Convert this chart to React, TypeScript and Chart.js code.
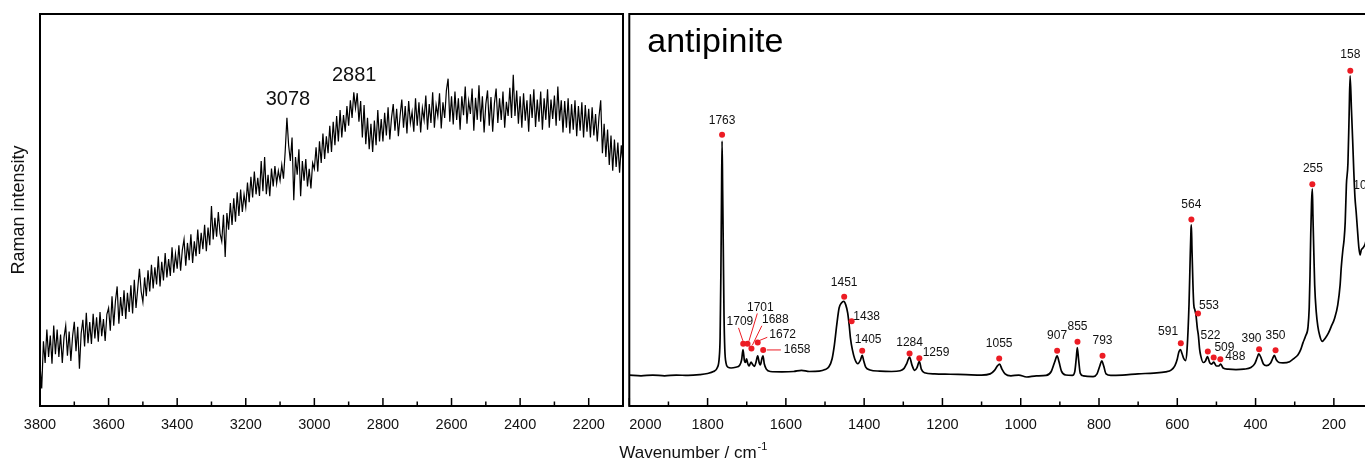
import React, { useEffect, useRef } from 'react';
import { Chart, registerables } from 'chart.js';

Chart.register(...registerables);

const FONT = "'Liberation Sans', Arial, Helvetica, sans-serif";

// ---------- Left panel (3800 - 2100 cm-1), sampled every 5 cm-1 from 3800 downwards ----------
const leftStartWn = 3800;
const leftStepWn = 5;
const leftIntensity: number[] = [
  10.5, 4.5, 16.5, 11.0, 19.5, 12.5, 18.0, 10.8, 20.5, 13.2, 19.5, 12.5, 18.2, 11.0, 17.5, 20.5, 12.8, 19.0, 11.5, 17.8,
  21.5, 14.0, 20.2, 9.5, 18.5, 22.0, 15.2, 23.8, 16.0, 21.4, 15.8, 23.5, 17.2, 22.6, 16.4, 24.0, 17.8, 22.2, 16.6, 23.4,
  25.0, 19.2, 28.0, 20.5, 26.8, 30.5, 21.0, 27.8, 23.0, 29.5, 22.2, 28.9, 24.0, 30.8, 23.6, 32.2, 25.0, 30.0, 35.0, 29.2,
  26.5, 32.8, 28.0, 34.6, 29.2, 36.0, 30.0, 35.4, 31.0, 38.2, 30.5, 36.8, 32.0, 39.0, 32.8, 37.5, 33.2, 40.5, 34.0, 38.8,
  35.0, 41.0, 34.5, 39.8, 42.5, 35.8, 41.6, 37.2, 43.8, 36.5, 42.0, 38.2, 45.0, 38.8, 44.2, 40.0, 46.2, 39.5, 45.5, 41.0,
  51.0, 42.5, 48.0, 43.2, 49.5, 44.0, 42.0, 48.8, 38.0, 49.2, 45.0, 51.8, 46.2, 53.0, 47.0, 54.5, 48.5, 55.2, 49.5, 54.0,
  50.8, 57.0, 52.0, 58.5, 53.2, 59.8, 54.0, 58.2, 53.6, 62.5, 54.8, 63.5, 54.0, 59.0, 53.5, 60.6, 56.0, 61.2, 56.8, 60.0,
  57.5, 61.5, 58.0, 65.0, 73.5, 66.5, 62.5, 68.5, 52.5, 63.5, 59.0, 65.5, 53.5, 62.5, 57.5, 63.0, 56.0, 60.5, 55.5, 62.0,
  60.5, 66.0, 59.8, 67.5, 62.0, 69.5, 63.0, 68.8, 64.5, 71.5, 64.8, 72.5, 66.5, 74.0, 67.5, 75.5, 68.5, 74.2, 70.0, 76.5,
  71.5, 78.0, 73.5, 80.0, 76.0, 79.8, 72.5, 77.8, 68.5, 76.8, 66.8, 73.5, 65.5, 72.0, 64.8, 72.8, 66.5, 75.5, 67.5, 73.2,
  67.5, 74.8, 69.0, 76.2, 68.0, 73.5, 77.0, 70.2, 75.8, 68.8, 74.0, 78.2, 71.0, 76.5, 69.5, 77.8, 72.2, 75.0, 70.0, 78.5,
  71.5, 77.5, 69.8, 76.0, 73.0, 79.2, 70.5, 77.0, 72.2, 80.0, 71.0, 76.8, 74.0, 79.8, 70.8, 77.5, 73.5, 80.5, 83.5, 72.5,
  79.0, 71.8, 80.2, 73.0, 78.5, 70.5, 79.0, 74.2, 81.5, 72.0, 77.8, 74.5, 81.0, 70.2, 78.6, 73.0, 81.8, 72.5, 79.0, 69.8,
  77.0, 80.5, 71.5, 78.8, 70.0, 77.2, 81.0, 72.2, 78.5, 73.0, 80.2, 71.0, 77.6, 74.0, 81.2, 73.5, 84.5, 74.0, 80.5, 72.0,
  79.0, 71.0, 79.8, 72.8, 78.0, 70.0, 79.5, 73.5, 80.8, 71.2, 78.2, 72.5, 80.2, 70.5, 78.5, 73.0, 80.8, 71.0, 78.2, 73.2,
  79.2, 71.5, 81.5, 72.8, 78.0, 69.8, 77.8, 71.0, 78.5, 69.5, 77.0, 70.5, 78.0, 68.8, 76.5, 70.2, 77.5, 68.5, 76.8, 70.0,
  75.8, 68.5, 76.2, 69.0, 74.5, 67.5, 73.8, 78.0, 64.5, 72.0, 63.5, 70.5, 61.5, 69.0, 60.0, 68.0, 61.0, 67.2, 59.5, 66.5,
  62.0,
];
const leftTickValues = [2100, 2200, 2300, 2400, 2500, 2600, 2700, 2800, 2900, 3000, 3100, 3200, 3300, 3400, 3500, 3600, 3700, 3800];
const leftNoteLabels = ['3078', '2881'];
const leftNoteWn = [3077, 2884];
const leftNoteI = [78.2, 84.4];

// ---------- Right panel (2000 - 100 cm-1) ----------
const rightWn = [
  2000, 1970, 1940, 1910, 1880, 1850, 1820, 1800, 1785, 1775, 1770, 1768, 1766, 1764.5, 1763, 1761.5, 1760, 1758, 1756, 1753,
  1748, 1740, 1728, 1718, 1713, 1709.5, 1706, 1703, 1700.5, 1697, 1694, 1689, 1685, 1680, 1676, 1672, 1668, 1665, 1661, 1658.5,
  1655, 1650, 1640, 1610, 1580, 1560, 1540, 1515, 1500, 1490, 1482, 1476, 1470, 1464, 1458, 1452, 1447, 1442, 1438, 1435,
  1430, 1424, 1416, 1410, 1405, 1401, 1396, 1385, 1360, 1330, 1308, 1298, 1291, 1284, 1278, 1271, 1265, 1259, 1254, 1246,
  1220, 1180, 1140, 1100, 1078, 1067, 1059, 1054, 1048, 1040, 1025, 1005, 985, 960, 935, 922, 913, 907, 902, 896,
  885, 868, 862, 858, 855.5, 852, 848, 840, 815, 805, 798, 793, 788, 782, 770, 740, 700, 660, 630, 615,
  606, 600, 596, 592, 588, 583, 579, 575, 570, 567, 565, 564, 562.5, 560, 558, 555, 552, 549, 546, 543,
  540, 534, 528, 523, 517, 512, 507, 500, 494, 489, 483, 470, 450, 430, 412, 402, 396, 392, 386, 380,
  372, 362, 356, 352, 347, 340, 330, 313, 300, 292, 285, 279, 272, 266, 263, 261, 259, 257, 255, 253.5,
  251, 249, 245, 241, 236, 230, 222, 214, 207, 198, 190, 184, 181, 177, 174, 171, 168, 164, 161, 158.5,
  155, 152, 149, 146, 143, 140, 136, 133, 130, 126, 120, 112, 106, 100,
];
const rightIntensity = [
  7.9, 7.7, 7.9, 7.7, 7.9, 7.8, 8.0, 8.3, 8.8, 9.8, 12.6, 17.5, 34.0, 52.0, 67.6, 55.0, 41.5, 23.0, 14.5, 11.0,
  9.9, 9.7, 9.9, 10.4, 11.8, 14.4, 11.6, 11.1, 12.0, 10.7, 10.2, 11.2, 10.6, 10.1, 11.3, 12.8, 11.0, 10.5, 12.2, 12.8,
  10.7, 9.4, 8.8, 8.7, 8.8, 9.1, 8.8, 8.9, 9.3, 10.0, 12.0, 15.6, 20.7, 25.0, 26.3, 26.7, 25.8, 23.7, 20.4, 17.3,
  14.3, 12.0, 10.8, 11.6, 12.9, 11.5, 9.9, 9.2, 8.9, 8.8, 9.0, 9.6, 10.9, 12.5, 10.5, 9.1, 9.8, 11.4, 9.4, 8.5,
  8.2, 8.1, 8.0, 7.9, 8.2, 9.1, 10.3, 10.7, 9.4, 8.2, 7.7, 7.9, 7.4, 7.7, 7.8, 8.8, 11.3, 12.8, 11.2, 8.9,
  7.9, 7.8, 8.7, 12.3, 14.9, 11.7, 8.4, 7.7, 7.5, 8.2, 10.2, 11.5, 10.2, 8.2, 7.8, 7.9, 8.2, 8.4, 8.7, 9.2,
  10.3, 12.0, 13.8, 14.4, 13.4, 12.0, 11.6, 14.5, 26.0, 38.0, 45.0, 46.2, 40.0, 31.0, 26.0, 24.5, 23.0, 20.0, 17.9, 14.5,
  12.8, 11.1, 11.5, 12.6, 11.0, 10.7, 11.2, 10.2, 10.2, 10.7, 9.7, 9.4, 9.3, 9.4, 9.8, 10.8, 12.3, 13.3, 12.3, 10.7,
  10.3, 10.9, 12.2, 12.9, 11.8, 11.1, 11.0, 11.3, 12.3, 13.0, 14.3, 16.1, 17.9, 20.2, 25.0, 33.0, 44.0, 52.0, 55.4, 48.7,
  38.5, 30.9, 24.0, 20.4, 17.9, 16.5, 17.3, 18.6, 20.2, 22.4, 25.8, 30.9, 35.5, 39.8, 42.3, 46.9, 56.4, 62.0, 74.2, 84.2,
  75.5, 67.9, 59.7, 53.1, 49.5, 45.4, 40.3, 38.5, 39.8, 40.3, 41.3, 44.9, 50.0, 46.2,
];
const rightTickValues = [100, 200, 300, 400, 500, 600, 700, 800, 900, 1000, 1100, 1200, 1300, 1400, 1500, 1600, 1700, 1800, 1900, 2000];

// Peak markers
const peakLabels = ['1763', '1709', '1701', '1688', '1672', '1658', '1451', '1438', '1405', '1284', '1259', '1055', '907', '855', '793', '591', '564', '553', '522', '509', '488', '390', '350', '255', '158', '105'];
const peakWn = [1763, 1709, 1698, 1688, 1672, 1658, 1451, 1432, 1405, 1284, 1259, 1055, 907, 855, 791, 591, 564, 547, 522, 507, 490, 391, 349, 255, 158, 105];
const peakI = [69.2, 15.9, 15.9, 14.7, 16.2, 14.3, 27.9, 21.6, 14.1, 13.4, 12.2, 12.1, 14.1, 16.4, 12.8, 16.0, 47.6, 23.6, 13.9, 12.4, 11.9, 14.5, 14.2, 56.6, 85.5, 52.6];

// Label placement relative to each marker (pixels)
const labelDx = [0, -3.3, 12.8, 23.9, 25, 34, 0, 15, 6, 0, 16.7, 0, 0, 0, 0, -12.7, 0, 11, 2.7, 10.7, 15, -7.6, 0, 0.6, 0, -7.8];
const labelDy = [-14.3, -21.8, -35.8, -28.3, -7.5, 0, -14, -4.6, -10.7, -10.6, -5.6, -14.7, -14.7, -15, -14.7, -11.6, -14.3, -8.3, -15.7, -10, -2.6, -10.3, -14.6, -15, -15.7, -14.3];
// Leader lines (start offset, end offset relative to marker), only for the crowded group
const leaderIdx = [1, 2, 3, 4, 5];
const leaderStart = [[-4.7, -15.8], [9.8, -30.2], [10.4, -22.6], [9.6, -5.2], [17.7, 0]];
const leaderEnd = [[-0.3, -2.8], [1.5, -2.8], [1, -3.3], [1.3, -1.8], [3.7, 0]];

const MARKER_RED = 'rgb(236, 28, 36)';

function drawInnerTicks(ctx: CanvasRenderingContext2D, scale: any, bottom: number) {
  ctx.save();
  ctx.strokeStyle = '#000';
  ctx.lineWidth = 1.5;
  scale.ticks.forEach((t: any) => {
    const px = scale.getPixelForValue(t.value);
    const len = Math.round(t.value) % 200 === 0 ? 8 : 4.5;
    ctx.beginPath();
    ctx.moveTo(px, bottom);
    ctx.lineTo(px, bottom - len);
    ctx.stroke();
  });
  ctx.restore();
}

function drawFrame(ctx: CanvasRenderingContext2D, a: any) {
  ctx.save();
  ctx.strokeStyle = '#000';
  ctx.lineWidth = 2;
  ctx.strokeRect(a.left, a.top, a.right - a.left, a.bottom - a.top);
  ctx.restore();
}

const tickLabel = (v: any) => (Math.round(Number(v)) % 200 === 0 ? String(v) : '');

const leftPlugin = {
  id: 'leftDecor',
  afterDatasetsDraw(chart: any) {
    const { ctx, chartArea: a, scales } = chart;
    drawFrame(ctx, a);
    drawInnerTicks(ctx, scales.x, a.bottom);
    ctx.save();
    ctx.fillStyle = '#111';
    ctx.font = `20px ${FONT}`;
    ctx.textAlign = 'center';
    ctx.textBaseline = 'middle';
    leftNoteLabels.forEach((t, i) => {
      ctx.fillText(t, scales.x.getPixelForValue(leftNoteWn[i]), scales.y.getPixelForValue(leftNoteI[i]));
    });
    ctx.restore();
  },
};

const rightPlugin = {
  id: 'rightDecor',
  afterDatasetsDraw(chart: any) {
    const { ctx, chartArea: a, scales } = chart;
    const x = scales.x;
    const y = scales.y;
    drawFrame(ctx, a);
    drawInnerTicks(ctx, x, a.bottom);
    ctx.save();
    // leader lines
    ctx.strokeStyle = MARKER_RED;
    ctx.lineWidth = 1;
    leaderIdx.forEach((pi, k) => {
      const px = x.getPixelForValue(peakWn[pi]);
      const py = y.getPixelForValue(peakI[pi]);
      ctx.beginPath();
      ctx.moveTo(px + leaderStart[k][0], py + leaderStart[k][1]);
      ctx.lineTo(px + leaderEnd[k][0], py + leaderEnd[k][1]);
      ctx.stroke();
    });
    // peak labels
    ctx.fillStyle = '#111';
    ctx.font = `12px ${FONT}`;
    ctx.textAlign = 'center';
    ctx.textBaseline = 'middle';
    peakLabels.forEach((t, i) => {
      const px = x.getPixelForValue(peakWn[i]);
      const py = y.getPixelForValue(peakI[i]);
      ctx.fillText(t, px + labelDx[i], py + labelDy[i]);
    });
    // mineral name
    ctx.font = `34px ${FONT}`;
    ctx.textAlign = 'left';
    ctx.textBaseline = 'alphabetic';
    ctx.fillStyle = '#000';
    ctx.fillText('antipinite', a.left + 18, a.top + 37.7);
    // x-axis title with superscript
    ctx.font = `17px ${FONT}`;
    ctx.fillStyle = '#111';
    const tx = a.left - 10;
    const ty = 458;
    const main = 'Wavenumber / cm';
    ctx.fillText(main, tx, ty);
    const w = ctx.measureText(main).width;
    ctx.font = `11px ${FONT}`;
    ctx.fillText('-1', tx + w + 1, ty - 8);
    ctx.restore();
  },
};

export default function App() {
  const leftRef = useRef<HTMLCanvasElement>(null);
  const rightRef = useRef<HTMLCanvasElement>(null);

  useEffect(() => {
    const leftData = leftIntensity.map((v, i) => ({ x: leftStartWn - i * leftStepWn, y: v }));
    const rightData = rightWn.map((w, i) => ({ x: w, y: rightIntensity[i] }));
    const peakData = peakWn.map((w, i) => ({ x: w, y: peakI[i] }));

    const left = new Chart(leftRef.current as HTMLCanvasElement, {
      type: 'line',
      data: {
        datasets: [
          { data: leftData, borderColor: '#000', borderWidth: 1.2, pointRadius: 0, tension: 0, fill: false },
        ],
      },
      options: {
        responsive: false,
        animation: false,
        events: [],
        layout: { padding: { top: 14, right: 3, left: 0, bottom: 0 } },
        plugins: { legend: { display: false }, tooltip: { enabled: false } },
        scales: {
          x: {
            type: 'linear',
            reverse: true,
            min: 2100,
            max: 3800,
            afterFit: (s: any) => { s.height = 55; },
            afterBuildTicks: (s: any) => { s.ticks = leftTickValues.map((v) => ({ value: v })); },
            grid: { display: false, drawTicks: false },
            border: { display: false },
            ticks: { autoSkip: false, maxRotation: 0, minRotation: 0, padding: 10, color: '#111', font: { size: 14.5, family: FONT }, callback: tickLabel },
          },
          y: {
            min: 0,
            max: 100,
            afterFit: (s: any) => { s.width = 40; },
            grid: { display: false, drawTicks: false },
            border: { display: false },
            ticks: { display: false },
            title: { display: true, text: 'Raman intensity', color: '#111', font: { size: 18, family: FONT }, padding: { top: 8.6, bottom: 0 } },
          },
        },
      },
      plugins: [leftPlugin],
    } as any);

    const right = new Chart(rightRef.current as HTMLCanvasElement, {
      type: 'line',
      data: {
        datasets: [
          { data: peakData, showLine: false, pointRadius: 3, pointBackgroundColor: MARKER_RED, pointBorderColor: MARKER_RED, pointBorderWidth: 0, borderColor: MARKER_RED, clip: false } as any,
          { data: rightData, borderColor: '#000', borderWidth: 1.7, pointRadius: 0, cubicInterpolationMode: 'monotone', fill: false },
        ],
      },
      options: {
        responsive: false,
        animation: false,
        events: [],
        layout: { padding: { top: 14, right: 3.2, left: 29.3, bottom: 0 } },
        plugins: { legend: { display: false }, tooltip: { enabled: false } },
        scales: {
          x: {
            type: 'linear',
            reverse: true,
            min: 100,
            max: 2000,
            afterFit: (s: any) => { s.height = 55; },
            afterBuildTicks: (s: any) => { s.ticks = rightTickValues.map((v) => ({ value: v })); },
            grid: { display: false, drawTicks: false },
            border: { display: false },
            ticks: { autoSkip: false, maxRotation: 0, minRotation: 0, padding: 10, align: 'inner', color: '#111', font: { size: 14.5, family: FONT }, callback: tickLabel },
          },
          y: { display: false, min: 0, max: 100 },
        },
      },
      plugins: [rightPlugin],
    } as any);

    return () => {
      left.destroy();
      right.destroy();
    };
  }, []);

  return (
    <div style={{ position: 'absolute', left: 0, top: 0, width: 1365, height: 461, overflow: 'hidden', background: '#fff' }}>
      <canvas ref={leftRef} width={626} height={461} style={{ position: 'absolute', left: 0, top: 0, width: 626, height: 461 }} />
      <canvas ref={rightRef} width={777} height={461} style={{ position: 'absolute', left: 600, top: 0, width: 777, height: 461 }} />
    </div>
  );
}
